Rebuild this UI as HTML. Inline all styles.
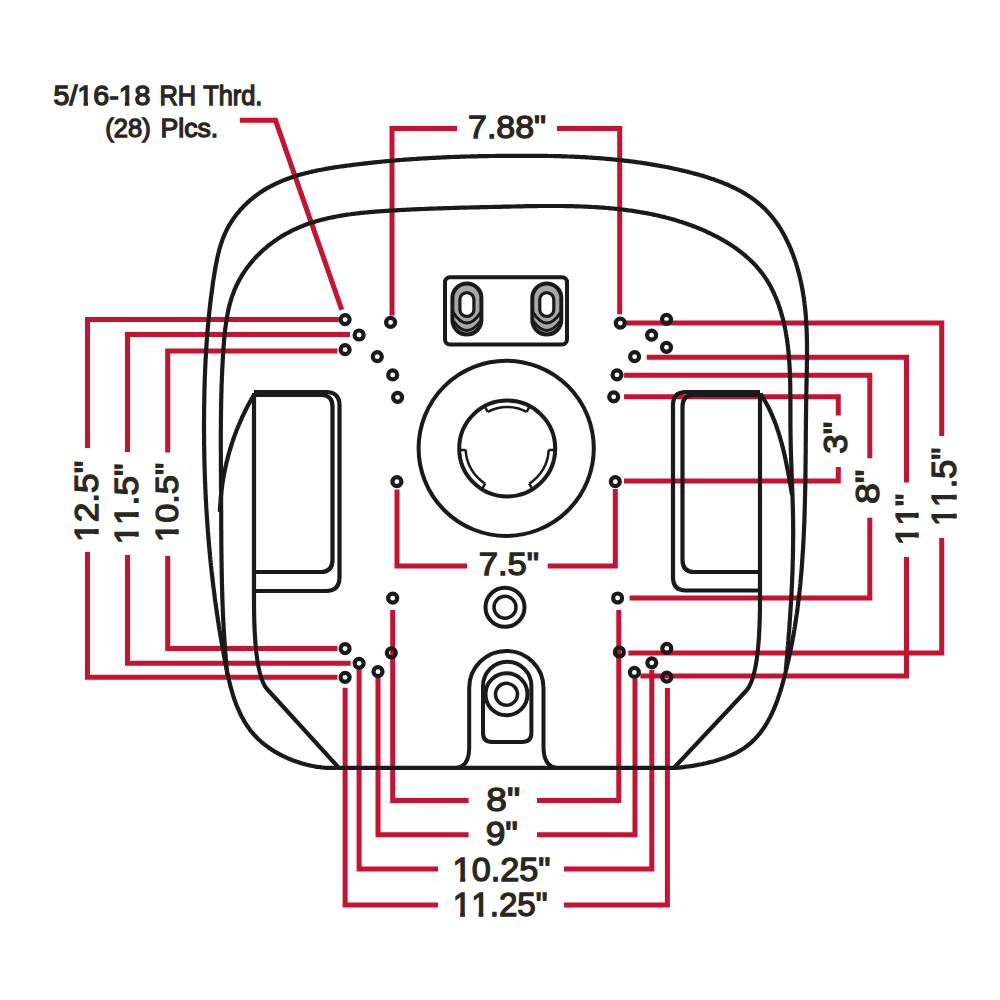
<!DOCTYPE html>
<html><head><meta charset="utf-8"><style>
html,body{margin:0;padding:0;background:#fff;width:1000px;height:1000px;overflow:hidden}
svg{display:block}
</style></head><body>
<svg width="1000" height="1000" viewBox="0 0 1000 1000">
<rect width="1000" height="1000" fill="#fff"/>
<path d="M397 489.5 V566 H467 M547.7 566 H615.3 V489" fill="none" stroke="#c81232" stroke-width="5" stroke-linejoin="miter"/>
<path d="M345.1 687.8 V905 H438 M564 905 H667.4 V688" fill="none" stroke="#c81232" stroke-width="5" stroke-linejoin="miter"/>
<path d="M359.1 669.6 V869 H438 M564 869 H651.8 V670" fill="none" stroke="#c81232" stroke-width="5" stroke-linejoin="miter"/>
<path d="M378 678 V834.8 H468.6 M537 834.8 H635 V678.4" fill="none" stroke="#c81232" stroke-width="5" stroke-linejoin="miter"/>
<path d="M392.7 610 V800.6 H468.6 M537 800.6 H618.8 V610" fill="none" stroke="#c81232" stroke-width="5" stroke-linejoin="miter"/>
<path d="M624.1 396.8 H838.3 V415.4 M838.3 467 V481 H624" fill="none" stroke="#c81232" stroke-width="5" stroke-linejoin="miter"/>
<path d="M624.1 375.2 H869.8 V458.3 M869.8 517.7 V598 H629.6" fill="none" stroke="#c81232" stroke-width="5" stroke-linejoin="miter"/>
<path d="M646.7 357.2 H906.5 V482.5 M906.5 557 V676 H640.4" fill="none" stroke="#c81232" stroke-width="5" stroke-linejoin="miter"/>
<path d="M626.3 323.1 H941.7 V436 M941.7 538 V653 H628.4" fill="none" stroke="#c81232" stroke-width="5" stroke-linejoin="miter"/>
<path d="M337.4 351 H167.7 V452.6 M167.7 556 V648.6 H337.4" fill="none" stroke="#c81232" stroke-width="5" stroke-linejoin="miter"/>
<path d="M350 334.4 H127.5 V452 M127.5 555 V663.3 H350.7" fill="none" stroke="#c81232" stroke-width="5" stroke-linejoin="miter"/>
<path d="M338.8 319.6 H87.5 V448 M87.5 552 V677.2 H337.4" fill="none" stroke="#c81232" stroke-width="5" stroke-linejoin="miter"/>
<path d="M239.8 120.3 H275.5 L341.8 309.8" fill="none" stroke="#c81232" stroke-width="5" stroke-linejoin="miter"/>
<path d="M392 315.4 V128.5 H457 M557 128.5 H619.7 V314.3" fill="none" stroke="#c81232" stroke-width="5" stroke-linejoin="miter"/>
<path d="M338.5 767.6 L337.1 767.7 L335.7 767.8 L334.4 767.9 L333.0 767.9 L331.6 767.9 L330.2 767.9 L328.8 767.9 L327.3 767.8 L325.9 767.8 L324.4 767.7 L323.0 767.5 L321.5 767.4 L320.1 767.2 L318.6 767.0 L317.1 766.8 L315.6 766.6 L314.1 766.3 L312.6 766.0 L311.1 765.7 L309.6 765.4 L308.1 765.0 L306.6 764.7 L305.1 764.3 L303.6 763.9 L302.1 763.5 L300.6 763.0 L299.1 762.5 L297.7 762.0 L296.2 761.5 L294.7 761.0 L293.2 760.4 L291.7 759.9 L290.3 759.3 L288.8 758.7 L287.4 758.1 L285.9 757.4 L284.5 756.7 L283.1 756.1 L281.7 755.4 L280.3 754.6 L278.9 753.9 L277.5 753.1 L276.2 752.4 L274.8 751.6 L273.5 750.8 L272.2 749.9 L270.9 749.1 L269.6 748.2 L268.4 747.3 L267.1 746.4 L265.9 745.5 L264.7 744.6 L263.5 743.7 L262.3 742.7 L261.2 741.7 L260.1 740.7 L259.0 739.7 L257.9 738.7 L256.8 737.6 L255.8 736.6 L254.8 735.5 L253.8 734.4 L252.9 733.3 L251.9 732.2 L251.0 731.1 L250.1 730.0 L249.3 728.8 L248.4 727.6 L247.6 726.4 L246.8 725.3 L246.0 724.0 L245.2 722.8 L244.5 721.6 L243.8 720.4 L243.1 719.1 L242.4 717.8 L241.7 716.6 L241.0 715.3 L240.4 714.0 L239.8 712.7 L239.2 711.4 L238.6 710.0 L238.0 708.7 L237.4 707.4 L236.9 706.0 L236.3 704.7 L235.8 703.3 L235.3 701.9 L234.8 700.5 L234.3 699.2 L233.9 697.8 L233.4 696.4 L233.0 694.9 L232.5 693.5 L232.1 692.1 L231.7 690.7 L231.3 689.2 L230.9 687.8 L230.5 686.4 L230.1 684.9 L229.8 683.5 L229.4 682.0 L229.1 680.5 L228.7 679.1 L228.4 677.6 L228.1 676.1 L227.7 674.7 L227.4 673.2 L227.1 671.7 L226.8 670.2 L226.5 668.7 L226.2 667.3 L225.9 665.8 L225.6 664.3 L225.3 662.8 L225.0 661.3 L224.8 659.8 L224.5 658.3 L224.2 656.9 L223.9 655.4 L223.6 653.9 L223.4 652.4 L223.1 650.9 L222.8 649.4 L222.6 647.9 L222.3 646.4 L222.0 644.9 L221.8 643.5 L221.5 642.0 L221.3 640.5 L221.0 639.0 L220.8 637.5 L220.5 636.0 L220.3 634.5 L220.0 633.0 L219.8 631.5 L219.5 630.1 L219.3 628.6 L219.1 627.1 L218.8 625.6 L218.6 624.1 L218.4 622.6 L218.1 621.1 L217.9 619.6 L217.7 618.1 L217.5 616.7 L217.2 615.2 L217.0 613.7 L216.8 612.2 L216.6 610.7 L216.4 609.2 L216.2 607.7 L216.0 606.2 L215.7 604.7 L215.5 603.3 L215.3 601.8 L215.1 600.3 L214.9 598.8 L214.7 597.3 L214.5 595.8 L214.4 594.3 L214.2 592.8 L214.0 591.3 L213.8 589.8 L213.6 588.4 L213.4 586.9 L213.2 585.4 L213.1 583.9 L212.9 582.4 L212.7 580.9 L212.5 579.4 L212.4 577.9 L212.2 576.4 L212.0 574.9 L211.8 573.4 L211.7 572.0 L211.5 570.5 L211.4 569.0 L211.2 567.5 L211.0 566.0 L210.9 564.5 L210.7 563.0 L210.6 561.5 L210.4 560.0 L210.3 558.5 L210.1 557.0 L210.0 555.6 L209.9 554.1 L209.7 552.6 L209.6 551.1 L209.4 549.6 L209.3 548.1 L209.2 546.6 L209.0 545.1 L208.9 543.6 L208.8 542.1 L208.7 540.6 L208.5 539.1 L208.4 537.7 L208.3 536.2 L208.2 534.7 L208.1 533.2 L207.9 531.7 L207.8 530.2 L207.7 528.7 L207.6 527.2 L207.5 525.7 L207.4 524.2 L207.3 522.7 L207.2 521.2 L207.1 519.7 L207.0 518.3 L206.9 516.8 L206.8 515.3 L206.7 513.8 L206.6 512.3 L206.5 510.8 L206.4 509.3 L206.3 507.8 L206.2 506.3 L206.2 504.8 L206.1 503.3 L206.0 501.8 L205.9 500.3 L205.8 498.8 L205.8 497.4 L205.7 495.9 L205.6 494.4 L205.5 492.9 L205.5 491.4 L205.4 489.9 L205.3 488.4 L205.3 486.9 L205.2 485.4 L205.2 483.9 L205.1 482.4 L205.0 480.9 L205.0 479.4 L204.9 477.9 L204.9 476.4 L204.8 475.0 L204.8 473.5 L204.7 472.0 L204.7 470.5 L204.6 469.0 L204.6 467.5 L204.6 466.0 L204.5 464.5 L204.5 463.0 L204.4 461.5 L204.4 460.0 L204.4 458.5 L204.3 457.0 L204.3 455.5 L204.3 454.0 L204.3 452.5 L204.2 451.0 L204.2 449.5 L204.2 448.1 L204.2 446.6 L204.1 445.1 L204.1 443.6 L204.1 442.1 L204.1 440.6 L204.1 439.1 L204.1 437.6 L204.1 436.1 L204.1 434.6 L204.0 433.1 L204.0 431.6 L204.0 430.1 L204.0 428.6 L204.0 427.1 L204.0 425.6 L204.0 424.1 L204.0 422.6 L204.0 421.1 L204.0 419.6 L204.1 418.2 L204.1 416.7 L204.1 415.2 L204.1 413.7 L204.1 412.2 L204.1 410.7 L204.1 409.2 L204.1 407.7 L204.2 406.2 L204.2 404.7 L204.2 403.2 L204.2 401.7 L204.3 400.2 L204.3 398.7 L204.3 397.2 L204.3 395.7 L204.4 394.2 L204.4 392.7 L204.4 391.2 L204.5 389.7 L204.5 388.2 L204.6 386.7 L204.6 385.2 L204.7 383.7 L204.7 382.2 L204.7 380.7 L204.8 379.3 L204.8 377.8 L204.9 376.3 L205.0 374.8 L205.0 373.3 L205.1 371.8 L205.1 370.3 L205.2 368.8 L205.3 367.3 L205.3 365.8 L205.4 364.3 L205.5 362.8 L205.5 361.3 L205.6 359.8 L205.7 358.3 L205.8 356.8 L205.9 355.3 L205.9 353.8 L206.0 352.3 L206.1 350.8 L206.2 349.3 L206.3 347.8 L206.4 346.3 L206.5 344.8 L206.6 343.3 L206.7 341.8 L206.8 340.3 L206.9 338.8 L207.0 337.3 L207.2 335.8 L207.3 334.3 L207.4 332.8 L207.5 331.3 L207.6 329.9 L207.8 328.4 L207.9 326.9 L208.0 325.4 L208.2 323.9 L208.3 322.4 L208.4 320.9 L208.6 319.4 L208.7 317.9 L208.9 316.4 L209.0 314.9 L209.2 313.4 L209.3 311.9 L209.5 310.4 L209.7 308.9 L209.8 307.4 L210.0 305.9 L210.2 304.4 L210.3 302.9 L210.5 301.4 L210.7 299.9 L210.9 298.4 L211.1 296.9 L211.3 295.4 L211.5 293.9 L211.7 292.4 L211.9 290.9 L212.1 289.4 L212.3 287.9 L212.5 286.4 L212.7 284.9 L212.9 283.4 L213.1 281.9 L213.3 280.4 L213.6 278.9 L213.8 277.5 L214.0 276.0 L214.3 274.5 L214.5 273.0 L214.8 271.5 L215.0 270.0 L215.3 268.5 L215.5 267.0 L215.8 265.5 L216.1 264.0 L216.4 262.5 L216.7 261.0 L217.0 259.6 L217.3 258.1 L217.6 256.6 L217.9 255.1 L218.3 253.7 L218.7 252.2 L219.0 250.8 L219.4 249.3 L219.8 247.9 L220.3 246.5 L220.7 245.0 L221.1 243.6 L221.6 242.2 L222.1 240.8 L222.6 239.4 L223.1 238.0 L223.7 236.6 L224.3 235.2 L224.8 233.9 L225.5 232.5 L226.1 231.2 L226.7 229.9 L227.4 228.5 L228.1 227.2 L228.8 225.9 L229.6 224.6 L230.4 223.3 L231.1 222.1 L232.0 220.8 L232.8 219.6 L233.6 218.4 L234.5 217.1 L235.4 215.9 L236.3 214.8 L237.2 213.6 L238.2 212.4 L239.2 211.3 L240.1 210.1 L241.1 209.0 L242.2 207.9 L243.2 206.8 L244.2 205.8 L245.3 204.7 L246.4 203.7 L247.5 202.6 L248.6 201.6 L249.7 200.6 L250.8 199.7 L251.9 198.7 L253.1 197.8 L254.3 196.9 L255.4 196.0 L256.6 195.1 L257.8 194.2 L259.0 193.4 L260.2 192.5 L261.4 191.7 L262.7 190.9 L263.9 190.1 L265.2 189.4 L266.4 188.6 L267.7 187.9 L269.0 187.2 L270.3 186.5 L271.6 185.8 L272.9 185.1 L274.2 184.5 L275.5 183.8 L276.8 183.2 L278.2 182.6 L279.5 182.0 L280.9 181.4 L282.2 180.9 L283.6 180.3 L285.0 179.8 L286.4 179.2 L287.7 178.7 L289.1 178.2 L290.5 177.7 L291.9 177.2 L293.4 176.8 L294.8 176.3 L296.2 175.9 L297.6 175.4 L299.1 175.0 L300.5 174.6 L301.9 174.2 L303.4 173.8 L304.8 173.4 L306.3 173.0 L307.8 172.7 L309.2 172.3 L310.7 172.0 L312.2 171.6 L313.6 171.3 L315.1 171.0 L316.6 170.6 L318.1 170.3 L319.6 170.0 L321.1 169.8 L322.6 169.5 L324.1 169.2 L325.6 168.9 L327.1 168.7 L328.6 168.4 L330.1 168.1 L331.6 167.9 L333.1 167.6 L334.6 167.4 L336.1 167.2 L337.6 167.0 L339.1 166.7 L340.7 166.5 L342.2 166.3 L343.7 166.1 L345.2 165.9 L346.7 165.7 L348.2 165.5 L349.7 165.3 L351.3 165.1 L352.8 164.9 L354.3 164.7 L355.8 164.5 L357.3 164.3 L358.8 164.1 L360.3 164.0 L361.8 163.8 L363.4 163.6 L364.9 163.4 L366.4 163.3 L367.9 163.1 L369.4 162.9 L370.9 162.8 L372.4 162.6 L373.9 162.4 L375.4 162.3 L376.9 162.1 L378.4 162.0 L379.9 161.8 L381.4 161.7 L382.9 161.5 L384.4 161.4 L385.9 161.3 L387.4 161.1 L388.9 161.0 L390.5 160.9 L392.0 160.7 L393.5 160.6 L395.0 160.5 L396.5 160.3 L398.0 160.2 L399.5 160.1 L401.0 160.0 L402.5 159.9 L404.0 159.7 L405.4 159.6 L406.9 159.5 L408.4 159.4 L409.9 159.3 L411.4 159.2 L412.9 159.1 L414.4 159.0 L415.9 158.9 L417.4 158.8 L418.9 158.7 L420.4 158.6 L421.9 158.5 L423.4 158.4 L424.9 158.3 L426.4 158.3 L427.9 158.2 L429.4 158.1 L430.9 158.0 L432.4 157.9 L433.9 157.8 L435.4 157.8 L436.8 157.7 L438.3 157.6 L439.8 157.6 L441.3 157.5 L442.8 157.4 L444.3 157.4 L445.8 157.3 L447.3 157.2 L448.8 157.2 L450.3 157.1 L451.8 157.0 L453.2 157.0 L454.7 156.9 L456.2 156.9 L457.7 156.8 L459.2 156.8 L460.7 156.7 L462.2 156.7 L463.7 156.6 L465.2 156.6 L466.6 156.5 L468.1 156.5 L469.6 156.5 L471.1 156.4 L472.6 156.4 L474.1 156.3 L475.6 156.3 L477.1 156.3 L478.6 156.2 L480.0 156.2 L481.5 156.2 L483.0 156.2 L484.5 156.1 L486.0 156.1 L487.5 156.1 L489.0 156.0 L490.5 156.0 L491.9 156.0 L493.4 156.0 L494.9 156.0 L496.4 155.9 L497.9 155.9 L499.4 155.9 L500.9 155.9 L502.4 155.9 L503.8 155.9 L505.3 155.8 L506.8 155.8 L508.3 155.8 L509.8 155.8 L511.3 155.8 L512.8 155.8 L514.3 155.8 L515.7 155.8 L517.2 155.8 L518.7 155.8 L520.2 155.8 L521.7 155.8 L523.2 155.8 L524.7 155.8 L526.2 155.8 L527.6 155.8 L529.1 155.8 L530.6 155.8 L532.1 155.8 L533.6 155.8 L535.1 155.8 L536.6 155.8 L538.1 155.8 L539.5 155.8 L541.0 155.9 L542.5 155.9 L544.0 155.9 L545.5 155.9 L547.0 155.9 L548.5 156.0 L550.0 156.0 L551.4 156.0 L552.9 156.0 L554.4 156.1 L555.9 156.1 L557.4 156.2 L558.9 156.2 L560.4 156.2 L561.9 156.3 L563.4 156.3 L564.8 156.4 L566.3 156.4 L567.8 156.5 L569.3 156.5 L570.8 156.6 L572.3 156.6 L573.8 156.7 L575.3 156.8 L576.8 156.8 L578.2 156.9 L579.7 157.0 L581.2 157.1 L582.7 157.1 L584.2 157.2 L585.7 157.3 L587.2 157.4 L588.7 157.5 L590.2 157.6 L591.6 157.7 L593.1 157.8 L594.6 157.9 L596.1 158.0 L597.6 158.1 L599.1 158.2 L600.6 158.3 L602.1 158.4 L603.6 158.5 L605.1 158.7 L606.5 158.8 L608.0 158.9 L609.5 159.1 L611.0 159.2 L612.5 159.3 L614.0 159.5 L615.5 159.6 L617.0 159.8 L618.5 159.9 L620.0 160.1 L621.4 160.2 L622.9 160.4 L624.4 160.6 L625.9 160.8 L627.4 160.9 L628.9 161.1 L630.4 161.3 L631.9 161.5 L633.4 161.7 L634.9 161.9 L636.3 162.1 L637.8 162.3 L639.3 162.5 L640.8 162.7 L642.3 162.9 L643.8 163.2 L645.3 163.4 L646.8 163.6 L648.3 163.8 L649.8 164.1 L651.3 164.3 L652.7 164.6 L654.2 164.8 L655.7 165.1 L657.2 165.4 L658.7 165.6 L660.2 165.9 L661.7 166.2 L663.2 166.5 L664.7 166.7 L666.2 167.0 L667.7 167.3 L669.2 167.6 L670.6 167.9 L672.1 168.2 L673.6 168.6 L675.1 168.9 L676.6 169.2 L678.1 169.5 L679.6 169.9 L681.1 170.2 L682.6 170.6 L684.1 170.9 L685.6 171.3 L687.1 171.6 L688.6 172.0 L690.0 172.4 L691.5 172.8 L693.0 173.2 L694.5 173.6 L696.0 174.0 L697.5 174.4 L699.0 174.8 L700.4 175.2 L701.9 175.6 L703.4 176.1 L704.9 176.5 L706.3 177.0 L707.8 177.4 L709.2 177.9 L710.7 178.4 L712.1 178.9 L713.6 179.3 L715.0 179.9 L716.5 180.4 L717.9 180.9 L719.3 181.4 L720.7 182.0 L722.1 182.5 L723.5 183.1 L724.9 183.7 L726.3 184.2 L727.7 184.8 L729.1 185.4 L730.5 186.1 L731.8 186.7 L733.2 187.3 L734.5 188.0 L735.8 188.6 L737.2 189.3 L738.5 190.0 L739.8 190.7 L741.1 191.4 L742.4 192.1 L743.6 192.9 L744.9 193.6 L746.2 194.4 L747.4 195.2 L748.6 196.0 L749.8 196.8 L751.0 197.6 L752.2 198.4 L753.4 199.3 L754.6 200.1 L755.7 201.0 L756.9 201.9 L758.0 202.8 L759.1 203.7 L760.2 204.7 L761.3 205.6 L762.4 206.6 L763.5 207.6 L764.5 208.6 L765.5 209.6 L766.5 210.7 L767.5 211.7 L768.5 212.8 L769.5 213.9 L770.4 215.0 L771.4 216.1 L772.3 217.2 L773.2 218.3 L774.1 219.5 L775.0 220.7 L775.8 221.8 L776.7 223.0 L777.5 224.3 L778.4 225.5 L779.2 226.7 L780.0 228.0 L780.7 229.2 L781.5 230.5 L782.3 231.8 L783.0 233.0 L783.7 234.3 L784.5 235.7 L785.2 237.0 L785.8 238.3 L786.5 239.7 L787.2 241.0 L787.8 242.4 L788.5 243.7 L789.1 245.1 L789.7 246.5 L790.3 247.9 L790.9 249.3 L791.4 250.7 L792.0 252.1 L792.6 253.5 L793.1 254.9 L793.6 256.4 L794.1 257.8 L794.6 259.2 L795.1 260.7 L795.6 262.1 L796.1 263.6 L796.5 265.1 L797.0 266.5 L797.4 268.0 L797.8 269.5 L798.2 270.9 L798.6 272.4 L799.0 273.9 L799.4 275.4 L799.7 276.9 L800.1 278.3 L800.4 279.8 L800.8 281.3 L801.1 282.8 L801.4 284.3 L801.7 285.8 L802.0 287.3 L802.3 288.8 L802.5 290.3 L802.8 291.7 L803.0 293.2 L803.3 294.7 L803.5 296.2 L803.7 297.7 L804.0 299.2 L804.2 300.7 L804.4 302.2 L804.5 303.7 L804.7 305.1 L804.9 306.6 L805.1 308.1 L805.2 309.6 L805.4 311.1 L805.5 312.6 L805.6 314.1 L805.8 315.6 L805.9 317.1 L806.0 318.6 L806.1 320.0 L806.2 321.5 L806.3 323.0 L806.4 324.5 L806.4 326.0 L806.5 327.5 L806.6 329.0 L806.6 330.5 L806.7 332.0 L806.8 333.4 L806.8 334.9 L806.8 336.4 L806.9 337.9 L806.9 339.4 L806.9 340.9 L807.0 342.4 L807.0 343.9 L807.0 345.4 L807.0 346.8 L807.0 348.3 L807.0 349.8 L807.0 351.3 L807.0 352.8 L807.0 354.3 L807.0 355.8 L807.0 357.3 L807.0 358.8 L807.0 360.3 L806.9 361.8 L806.9 363.2 L806.9 364.7 L806.9 366.2 L806.8 367.7 L806.8 369.2 L806.8 370.7 L806.8 372.2 L806.7 373.7 L806.7 375.2 L806.7 376.7 L806.6 378.2 L806.6 379.7 L806.6 381.2 L806.5 382.7 L806.5 384.2 L806.5 385.6 L806.4 387.1 L806.4 388.6 L806.4 390.1 L806.4 391.6 L806.3 393.1 L806.3 394.6 L806.3 396.1 L806.3 397.6 L806.2 399.1 L806.2 400.6 L806.2 402.1 L806.2 403.6 L806.1 405.1 L806.1 406.6 L806.1 408.1 L806.1 409.6 L806.1 411.1 L806.0 412.6 L806.0 414.1 L806.0 415.6 L806.0 417.1 L806.0 418.6 L806.0 420.1 L805.9 421.6 L805.9 423.1 L805.9 424.6 L805.9 426.1 L805.9 427.6 L805.9 429.1 L805.9 430.6 L805.8 432.1 L805.8 433.6 L805.8 435.1 L805.8 436.6 L805.8 438.1 L805.8 439.6 L805.8 441.1 L805.8 442.6 L805.7 444.1 L805.7 445.6 L805.7 447.1 L805.7 448.6 L805.7 450.1 L805.7 451.6 L805.7 453.1 L805.7 454.6 L805.6 456.1 L805.6 457.6 L805.6 459.1 L805.6 460.6 L805.6 462.1 L805.6 463.6 L805.5 465.1 L805.5 466.6 L805.5 468.1 L805.5 469.6 L805.5 471.1 L805.5 472.6 L805.4 474.1 L805.4 475.7 L805.4 477.2 L805.4 478.7 L805.4 480.2 L805.3 481.7 L805.3 483.2 L805.3 484.7 L805.3 486.2 L805.2 487.7 L805.2 489.2 L805.2 490.7 L805.1 492.2 L805.1 493.7 L805.1 495.2 L805.0 496.7 L805.0 498.2 L805.0 499.7 L804.9 501.2 L804.9 502.7 L804.9 504.2 L804.8 505.7 L804.8 507.2 L804.7 508.7 L804.7 510.2 L804.7 511.7 L804.6 513.2 L804.6 514.7 L804.5 516.2 L804.5 517.7 L804.4 519.2 L804.4 520.7 L804.3 522.2 L804.3 523.7 L804.2 525.2 L804.1 526.7 L804.1 528.2 L804.0 529.7 L803.9 531.2 L803.9 532.7 L803.8 534.2 L803.7 535.7 L803.7 537.2 L803.6 538.7 L803.5 540.2 L803.4 541.7 L803.4 543.2 L803.3 544.7 L803.2 546.2 L803.1 547.7 L803.0 549.2 L802.9 550.7 L802.8 552.2 L802.7 553.7 L802.6 555.2 L802.5 556.7 L802.4 558.2 L802.3 559.7 L802.2 561.2 L802.1 562.7 L802.0 564.1 L801.9 565.6 L801.8 567.1 L801.7 568.6 L801.6 570.1 L801.4 571.6 L801.3 573.1 L801.2 574.6 L801.0 576.1 L800.9 577.6 L800.8 579.1 L800.6 580.6 L800.5 582.1 L800.4 583.5 L800.2 585.0 L800.1 586.5 L799.9 588.0 L799.7 589.5 L799.6 591.0 L799.4 592.5 L799.3 594.0 L799.1 595.5 L798.9 596.9 L798.8 598.4 L798.6 599.9 L798.4 601.4 L798.2 602.9 L798.0 604.4 L797.8 605.9 L797.7 607.3 L797.5 608.8 L797.3 610.3 L797.1 611.8 L796.9 613.3 L796.6 614.8 L796.4 616.2 L796.2 617.7 L796.0 619.2 L795.8 620.7 L795.5 622.2 L795.3 623.6 L795.1 625.1 L794.9 626.6 L794.6 628.1 L794.4 629.6 L794.1 631.0 L793.9 632.5 L793.6 634.0 L793.4 635.5 L793.1 636.9 L792.8 638.4 L792.6 639.9 L792.3 641.4 L792.0 642.8 L791.7 644.3 L791.4 645.8 L791.1 647.3 L790.9 648.7 L790.6 650.2 L790.3 651.7 L789.9 653.1 L789.6 654.6 L789.3 656.1 L789.0 657.5 L788.7 659.0 L788.4 660.5 L788.0 661.9 L787.7 663.4 L787.3 664.9 L787.0 666.3 L786.7 667.8 L786.3 669.3 L785.9 670.7 L785.6 672.2 L785.2 673.7 L784.8 675.1 L784.5 676.6 L784.1 678.0 L783.7 679.5 L783.3 681.0 L782.9 682.4 L782.5 683.9 L782.1 685.3 L781.7 686.8 L781.3 688.2 L780.8 689.6 L780.4 691.1 L779.9 692.5 L779.5 693.9 L779.0 695.4 L778.5 696.8 L778.1 698.2 L777.6 699.6 L777.1 701.0 L776.6 702.4 L776.0 703.8 L775.5 705.2 L774.9 706.6 L774.4 707.9 L773.8 709.3 L773.2 710.6 L772.6 712.0 L772.0 713.3 L771.4 714.6 L770.7 715.9 L770.1 717.2 L769.4 718.5 L768.7 719.8 L768.0 721.0 L767.3 722.3 L766.6 723.5 L765.8 724.8 L765.1 726.0 L764.3 727.2 L763.5 728.4 L762.7 729.5 L761.8 730.7 L761.0 731.8 L760.1 733.0 L759.2 734.1 L758.3 735.2 L757.3 736.3 L756.4 737.3 L755.4 738.4 L754.4 739.4 L753.4 740.4 L752.3 741.4 L751.3 742.4 L750.2 743.4 L749.1 744.3 L747.9 745.2 L746.8 746.1 L745.6 747.0 L744.4 747.9 L743.2 748.7 L741.9 749.5 L740.6 750.3 L739.3 751.1 L738.0 751.9 L736.6 752.6 L735.2 753.3 L733.8 754.0 L732.4 754.7 L730.9 755.3 L729.5 755.9 L728.0 756.6 L726.5 757.1 L725.0 757.7 L723.4 758.3 L721.9 758.8 L720.3 759.3 L718.8 759.8 L717.2 760.3 L715.6 760.7 L714.1 761.2 L712.5 761.6 L710.9 762.0 L709.3 762.4 L707.7 762.8 L706.1 763.2 L704.5 763.5 L703.0 763.9 L701.4 764.2 L699.8 764.5 L698.3 764.8 L696.7 765.1 L695.2 765.3 L693.6 765.6 L692.1 765.8 L690.6 766.1 L689.1 766.3 L687.7 766.5 L686.2 766.7 L684.8 766.9 L683.4 767.1 L682.0 767.3 L680.7 767.4 L679.3 767.6 L678.0 767.7 L676.8 767.8 L675.5 768.0 L674.3 768.1" fill="none" stroke="#1a1a1a" stroke-width="4.2" stroke-linejoin="round"/>
<path d="M227.4 675.0 L227.2 673.5 L227.1 672.0 L226.9 670.5 L226.8 669.0 L226.6 667.5 L226.5 666.0 L226.4 664.5 L226.2 663.0 L226.1 661.5 L226.0 660.0 L225.8 658.5 L225.7 657.0 L225.6 655.5 L225.5 654.1 L225.3 652.6 L225.2 651.1 L225.1 649.6 L225.0 648.1 L224.9 646.6 L224.8 645.1 L224.7 643.6 L224.6 642.1 L224.5 640.6 L224.4 639.1 L224.3 637.6 L224.2 636.1 L224.1 634.6 L224.0 633.1 L223.9 631.6 L223.8 630.1 L223.7 628.6 L223.6 627.1 L223.6 625.6 L223.5 624.1 L223.4 622.6 L223.3 621.1 L223.2 619.6 L223.2 618.1 L223.1 616.6 L223.0 615.1 L223.0 613.6 L222.9 612.1 L222.8 610.6 L222.8 609.1 L222.7 607.6 L222.7 606.1 L222.6 604.6 L222.5 603.1 L222.5 601.6 L222.4 600.1 L222.4 598.6 L222.3 597.1 L222.3 595.6 L222.2 594.1 L222.2 592.6 L222.2 591.1 L222.1 589.6 L222.1 588.1 L222.0 586.6 L222.0 585.1 L222.0 583.6 L221.9 582.1 L221.9 580.6 L221.9 579.1 L221.8 577.6 L221.8 576.1 L221.8 574.6 L221.7 573.1 L221.7 571.6 L221.7 570.1 L221.7 568.6 L221.6 567.1 L221.6 565.6 L221.6 564.1 L221.6 562.6 L221.5 561.1 L221.5 559.6 L221.5 558.1 L221.5 556.6 L221.5 555.1 L221.4 553.6 L221.4 552.1 L221.4 550.6 L221.4 549.1 L221.4 547.6 L221.4 546.2 L221.3 544.7 L221.3 543.2 L221.3 541.7 L221.3 540.2 L221.3 538.7 L221.3 537.2 L221.3 535.7 L221.3 534.2 L221.3 532.7 L221.3 531.2 L221.2 529.7 L221.2 528.2 L221.2 526.7 L221.2 525.2 L221.2 523.7 L221.2 522.2 L221.2 520.7 L221.2 519.2 L221.2 517.7 L221.2 516.2 L221.2 514.7 L221.2 513.2 L221.2 511.7 L221.2 510.2 L221.1 508.8 L221.1 507.3 L221.1 505.8 L221.1 504.3 L221.1 502.8 L221.1 501.3 L221.1 499.8 L221.1 498.3 L221.1 496.8 L221.1 495.3 L221.1 493.8 L221.1 492.3 L221.1 490.8 L221.1 489.3 L221.0 487.8 L221.0 486.4 L221.0 484.9 L221.0 483.4 L221.0 481.9 L221.0 480.4 L221.0 478.9 L221.0 477.4 L221.0 475.9 L221.0 474.4 L221.0 472.9 L220.9 471.4 L220.9 469.9 L220.9 468.5 L220.9 467.0 L220.9 465.5 L220.9 464.0 L220.9 462.5 L220.9 461.0 L220.9 459.5 L220.9 458.0 L220.9 456.5 L220.9 455.0 L220.9 453.5 L220.8 452.1 L220.8 450.6 L220.8 449.1 L220.8 447.6 L220.8 446.1 L220.8 444.6 L220.8 443.1 L220.8 441.6 L220.8 440.1 L220.8 438.6 L220.8 437.1 L220.8 435.6 L220.8 434.1 L220.8 432.6 L220.8 431.1 L220.8 429.6 L220.9 428.1 L220.9 426.6 L220.9 425.1 L220.9 423.6 L220.9 422.1 L220.9 420.7 L220.9 419.2 L220.9 417.7 L221.0 416.2 L221.0 414.7 L221.0 413.1 L221.0 411.6 L221.0 410.1 L221.1 408.6 L221.1 407.1 L221.1 405.6 L221.1 404.1 L221.2 402.6 L221.2 401.1 L221.2 399.6 L221.3 398.1 L221.3 396.6 L221.3 395.1 L221.4 393.6 L221.4 392.1 L221.5 390.6 L221.5 389.0 L221.5 387.5 L221.6 386.0 L221.6 384.5 L221.7 383.0 L221.8 381.5 L221.8 380.0 L221.9 378.4 L221.9 376.9 L222.0 375.4 L222.1 373.9 L222.1 372.4 L222.2 370.8 L222.3 369.3 L222.3 367.8 L222.4 366.3 L222.5 364.7 L222.6 363.2 L222.7 361.7 L222.7 360.1 L222.8 358.6 L222.9 357.1 L223.0 355.6 L223.1 354.0 L223.2 352.5 L223.3 351.0 L223.4 349.4 L223.5 347.9 L223.6 346.3 L223.8 344.8 L223.9 343.3 L224.0 341.7 L224.1 340.2 L224.3 338.6 L224.4 337.1 L224.5 335.6 L224.7 334.0 L224.9 332.5 L225.0 331.0 L225.2 329.4 L225.4 327.9 L225.6 326.4 L225.8 324.9 L226.0 323.4 L226.2 321.8 L226.4 320.3 L226.7 318.8 L226.9 317.3 L227.2 315.8 L227.5 314.4 L227.8 312.9 L228.1 311.4 L228.4 309.9 L228.7 308.5 L229.0 307.0 L229.4 305.6 L229.8 304.1 L230.2 302.7 L230.6 301.2 L231.0 299.8 L231.4 298.4 L231.9 297.0 L232.4 295.6 L232.9 294.2 L233.4 292.9 L233.9 291.5 L234.4 290.1 L235.0 288.8 L235.6 287.5 L236.2 286.1 L236.8 284.8 L237.5 283.5 L238.1 282.2 L238.8 280.9 L239.5 279.7 L240.2 278.4 L240.9 277.2 L241.6 275.9 L242.4 274.7 L243.2 273.5 L243.9 272.3 L244.7 271.1 L245.6 269.9 L246.4 268.7 L247.2 267.5 L248.1 266.4 L249.0 265.2 L249.9 264.1 L250.8 263.0 L251.7 261.9 L252.6 260.8 L253.6 259.7 L254.6 258.6 L255.5 257.5 L256.5 256.5 L257.5 255.4 L258.6 254.4 L259.6 253.4 L260.6 252.4 L261.7 251.4 L262.8 250.4 L263.9 249.5 L265.0 248.5 L266.1 247.6 L267.2 246.6 L268.3 245.7 L269.5 244.8 L270.6 243.9 L271.8 243.0 L273.0 242.2 L274.2 241.3 L275.4 240.5 L276.6 239.6 L277.8 238.8 L279.0 238.0 L280.3 237.2 L281.5 236.4 L282.8 235.7 L284.1 234.9 L285.3 234.2 L286.6 233.5 L287.9 232.8 L289.2 232.1 L290.6 231.4 L291.9 230.7 L293.2 230.0 L294.6 229.4 L295.9 228.8 L297.3 228.2 L298.7 227.6 L300.0 227.0 L301.4 226.4 L302.8 225.9 L304.2 225.3 L305.6 224.8 L307.0 224.3 L308.4 223.8 L309.9 223.3 L311.3 222.8 L312.7 222.3 L314.2 221.9 L315.6 221.4 L317.1 221.0 L318.6 220.6 L320.0 220.2 L321.5 219.8 L323.0 219.4 L324.5 219.1 L326.0 218.7 L327.5 218.3 L329.0 218.0 L330.5 217.7 L332.0 217.4 L333.5 217.1 L335.0 216.8 L336.5 216.5 L338.0 216.2 L339.5 215.9 L341.1 215.7 L342.6 215.4 L344.1 215.2 L345.7 214.9 L347.2 214.7 L348.7 214.5 L350.3 214.3 L351.8 214.0 L353.4 213.8 L354.9 213.7 L356.5 213.5 L358.0 213.3 L359.5 213.1 L361.1 212.9 L362.6 212.8 L364.2 212.6 L365.7 212.5 L367.3 212.3 L368.8 212.2 L370.4 212.1 L371.9 211.9 L373.5 211.8 L375.0 211.7 L376.6 211.6 L378.1 211.4 L379.7 211.3 L381.2 211.2 L382.7 211.1 L384.3 211.0 L385.8 210.9 L387.4 210.8 L388.9 210.7 L390.4 210.6 L391.9 210.5 L393.5 210.4 L395.0 210.4 L396.5 210.3 L398.0 210.2 L399.5 210.1 L401.0 210.0 L402.5 209.9 L404.0 209.9 L405.5 209.8 L407.0 209.7 L408.5 209.6 L410.0 209.6 L411.5 209.5 L413.0 209.4 L414.5 209.4 L416.0 209.3 L417.5 209.2 L419.0 209.2 L420.4 209.1 L421.9 209.0 L423.4 209.0 L424.9 208.9 L426.3 208.9 L427.8 208.8 L429.3 208.7 L430.8 208.7 L432.2 208.6 L433.7 208.6 L435.2 208.5 L436.6 208.5 L438.1 208.4 L439.5 208.4 L441.0 208.3 L442.5 208.3 L443.9 208.2 L445.4 208.2 L446.8 208.1 L448.3 208.1 L449.8 208.0 L451.2 208.0 L452.7 208.0 L454.1 207.9 L455.6 207.9 L457.0 207.8 L458.5 207.8 L460.0 207.7 L461.4 207.7 L462.9 207.7 L464.3 207.6 L465.8 207.6 L467.2 207.6 L468.7 207.5 L470.2 207.5 L471.6 207.4 L473.1 207.4 L474.5 207.4 L476.0 207.3 L477.4 207.3 L478.9 207.3 L480.4 207.2 L481.8 207.2 L483.3 207.2 L484.8 207.1 L486.2 207.1 L487.7 207.1 L489.2 207.0 L490.6 207.0 L492.1 207.0 L493.6 206.9 L495.0 206.9 L496.5 206.9 L498.0 206.8 L499.5 206.8 L501.0 206.8 L502.4 206.7 L503.9 206.7 L505.4 206.7 L506.9 206.6 L508.4 206.6 L509.9 206.6 L511.4 206.5 L512.9 206.5 L514.4 206.5 L515.9 206.4 L517.4 206.4 L518.9 206.4 L520.4 206.3 L521.9 206.3 L523.4 206.3 L524.9 206.2 L526.4 206.2 L527.9 206.2 L529.4 206.2 L530.9 206.1 L532.4 206.1 L533.9 206.1 L535.5 206.1 L537.0 206.1 L538.5 206.0 L540.0 206.0 L541.5 206.0 L543.0 206.0 L544.6 206.0 L546.1 206.0 L547.6 206.0 L549.1 206.0 L550.6 206.0 L552.2 206.0 L553.7 206.0 L555.2 206.0 L556.7 206.0 L558.3 206.0 L559.8 206.0 L561.3 206.0 L562.8 206.0 L564.4 206.1 L565.9 206.1 L567.4 206.1 L568.9 206.1 L570.5 206.2 L572.0 206.2 L573.5 206.2 L575.1 206.3 L576.6 206.3 L578.1 206.4 L579.6 206.4 L581.2 206.5 L582.7 206.5 L584.2 206.6 L585.7 206.7 L587.3 206.7 L588.8 206.8 L590.3 206.9 L591.8 207.0 L593.4 207.0 L594.9 207.1 L596.4 207.2 L597.9 207.3 L599.4 207.4 L601.0 207.5 L602.5 207.6 L604.0 207.7 L605.5 207.9 L607.0 208.0 L608.6 208.1 L610.1 208.3 L611.6 208.4 L613.1 208.5 L614.6 208.7 L616.1 208.8 L617.6 209.0 L619.1 209.2 L620.7 209.3 L622.2 209.5 L623.7 209.7 L625.2 209.9 L626.7 210.1 L628.2 210.3 L629.7 210.5 L631.2 210.7 L632.7 210.9 L634.2 211.1 L635.7 211.4 L637.1 211.6 L638.6 211.8 L640.1 212.1 L641.6 212.3 L643.1 212.6 L644.6 212.9 L646.1 213.1 L647.5 213.4 L649.0 213.7 L650.5 214.0 L652.0 214.3 L653.4 214.6 L654.9 214.9 L656.4 215.2 L657.8 215.5 L659.3 215.9 L660.7 216.2 L662.2 216.6 L663.7 216.9 L665.1 217.3 L666.6 217.7 L668.0 218.0 L669.4 218.4 L670.9 218.8 L672.3 219.2 L673.8 219.6 L675.2 220.1 L676.6 220.5 L678.1 220.9 L679.5 221.4 L680.9 221.8 L682.3 222.3 L683.7 222.7 L685.2 223.2 L686.6 223.7 L688.0 224.2 L689.4 224.7 L690.8 225.2 L692.2 225.7 L693.6 226.3 L695.0 226.8 L696.4 227.4 L697.7 227.9 L699.1 228.5 L700.5 229.0 L701.9 229.6 L703.2 230.2 L704.6 230.8 L706.0 231.4 L707.3 232.1 L708.7 232.7 L710.1 233.3 L711.4 234.0 L712.7 234.7 L714.1 235.3 L715.4 236.0 L716.7 236.7 L718.1 237.4 L719.4 238.1 L720.7 238.8 L722.0 239.6 L723.3 240.3 L724.6 241.1 L725.9 241.8 L727.2 242.6 L728.4 243.4 L729.7 244.2 L730.9 245.0 L732.2 245.8 L733.4 246.6 L734.6 247.5 L735.9 248.3 L737.1 249.2 L738.3 250.1 L739.4 251.0 L740.6 251.9 L741.8 252.8 L742.9 253.7 L744.1 254.6 L745.2 255.6 L746.3 256.5 L747.4 257.5 L748.5 258.5 L749.6 259.5 L750.7 260.5 L751.7 261.5 L752.7 262.5 L753.8 263.6 L754.8 264.6 L755.8 265.7 L756.8 266.8 L757.7 267.9 L758.7 269.0 L759.6 270.1 L760.5 271.2 L761.4 272.4 L762.3 273.5 L763.2 274.7 L764.0 275.9 L764.8 277.1 L765.7 278.3 L766.4 279.5 L767.2 280.7 L768.0 282.0 L768.7 283.2 L769.5 284.5 L770.2 285.8 L770.9 287.1 L771.6 288.4 L772.2 289.7 L772.9 291.0 L773.5 292.3 L774.1 293.7 L774.7 295.0 L775.3 296.4 L775.9 297.7 L776.5 299.1 L777.0 300.5 L777.6 301.9 L778.1 303.2 L778.6 304.6 L779.1 306.1 L779.5 307.5 L780.0 308.9 L780.5 310.3 L780.9 311.7 L781.3 313.2 L781.7 314.6 L782.1 316.0 L782.5 317.5 L782.9 318.9 L783.3 320.4 L783.6 321.9 L784.0 323.3 L784.3 324.8 L784.6 326.2 L784.9 327.7 L785.2 329.2 L785.5 330.7 L785.8 332.1 L786.0 333.6 L786.3 335.1 L786.5 336.6 L786.8 338.1 L787.0 339.6 L787.2 341.1 L787.4 342.6 L787.6 344.1 L787.8 345.6 L788.0 347.1 L788.1 348.6 L788.3 350.1 L788.4 351.6 L788.6 353.1 L788.7 354.6 L788.9 356.1 L789.0 357.7 L789.1 359.2 L789.2 360.7 L789.3 362.2 L789.4 363.7 L789.5 365.3 L789.6 366.8 L789.7 368.3 L789.8 369.8 L789.8 371.4 L789.9 372.9 L789.9 374.4 L790.0 376.0 L790.1 377.5 L790.1 379.0 L790.1 380.6 L790.2 382.1 L790.2 383.6 L790.2 385.2 L790.3 386.7 L790.3 388.2 L790.3 389.8 L790.3 391.3 L790.3 392.8 L790.4 394.4 L790.4 395.9 L790.4 397.4 L790.4 399.0 L790.4 400.5 L790.4 402.1 L790.4 403.6 L790.4 405.1 L790.4 406.7 L790.4 408.2 L790.4 409.7 L790.4 411.2 L790.4 412.8 L790.4 414.3 L790.4 415.8 L790.4 417.4 L790.4 418.9 L790.4 420.4 L790.4 421.9 L790.4 423.5 L790.4 425.0 L790.4 426.5 L790.5 428.0 L790.5 429.5 L790.5 431.0 L790.5 432.5 L790.5 434.1 L790.5 435.6 L790.6 437.1 L790.6 438.6 L790.6 440.1 L790.7 441.6 L790.7 443.1 L790.7 444.6 L790.8 446.1 L790.8 447.6 L790.8 449.1 L790.9 450.6 L790.9 452.1 L791.0 453.6 L791.0 455.0 L791.1 456.5 L791.1 458.0 L791.2 459.5 L791.2 461.0 L791.3 462.5 L791.3 464.0 L791.4 465.4 L791.4 466.9 L791.5 468.4 L791.5 469.9 L791.6 471.4 L791.6 472.9 L791.7 474.3 L791.8 475.8 L791.8 477.3 L791.9 478.8 L791.9 480.2 L792.0 481.7 L792.0 483.2 L792.1 484.7 L792.1 486.2 L792.2 487.6 L792.3 489.1 L792.3 490.6 L792.4 492.1 L792.4 493.5 L792.5 495.0 L792.5 496.5 L792.6 498.0 L792.6 499.4 L792.6 500.9 L792.7 502.4 L792.7 503.9 L792.8 505.4 L792.8 506.8 L792.9 508.3 L792.9 509.8 L792.9 511.3 L793.0 512.8 L793.0 514.2 L793.0 515.7 L793.0 517.2 L793.1 518.7 L793.1 520.2 L793.1 521.7 L793.1 523.2 L793.1 524.6 L793.1 526.1 L793.1 527.6 L793.2 529.1 L793.2 530.6 L793.2 532.1 L793.2 533.6 L793.2 535.1 L793.2 536.6 L793.1 538.1 L793.1 539.6 L793.1 541.0 L793.1 542.5 L793.1 544.0 L793.1 545.5 L793.1 547.0 L793.0 548.5 L793.0 550.0 L793.0 551.5 L793.0 553.0 L792.9 554.5 L792.9 556.0 L792.9 557.5 L792.8 559.0 L792.8 560.5 L792.7 562.0 L792.7 563.5 L792.7 565.0 L792.6 566.5 L792.6 568.0 L792.5 569.6 L792.5 571.1 L792.4 572.6 L792.4 574.1 L792.3 575.6 L792.2 577.1 L792.2 578.6 L792.1 580.1 L792.1 581.6 L792.0 583.1 L791.9 584.6 L791.8 586.1 L791.8 587.6 L791.7 589.1 L791.6 590.6 L791.6 592.1 L791.5 593.6 L791.4 595.1 L791.3 596.6 L791.2 598.2 L791.1 599.7 L791.1 601.2 L791.0 602.7 L790.9 604.2 L790.8 605.7 L790.7 607.2 L790.6 608.7 L790.5 610.2 L790.4 611.7 L790.3 613.2 L790.2 614.7 L790.1 616.2 L790.0 617.7 L789.9 619.2 L789.8 620.7 L789.7 622.2 L789.6 623.7 L789.5 625.2 L789.4 626.7 L789.3 628.2 L789.2 629.7 L789.1 631.2 L788.9 632.7 L788.8 634.2 L788.7 635.7 L788.6 637.2 L788.5 638.7 L788.4 640.2 L788.2 641.7 L788.1 643.2 L788.0 644.7 L787.9 646.2 L787.7 647.7 L787.6 649.2 L787.5 650.7 L787.4 652.1 L787.2 653.6 L787.1 655.1 L787.0 656.6 L786.9 658.1 L786.7 659.6 L786.6 661.1 L786.5 662.6 L786.3 664.0 L786.2 665.5 L786.0 667.0 L785.9 668.5 L785.8 670.0" fill="none" stroke="#1a1a1a" stroke-width="4.2"/>
<path d="M254.0 395.0 L253.2 396.3 L252.4 397.5 L251.7 398.8 L251.0 400.1 L250.2 401.4 L249.5 402.7 L248.8 404.0 L248.1 405.3 L247.4 406.6 L246.7 407.9 L246.1 409.2 L245.4 410.6 L244.7 411.9 L244.1 413.2 L243.4 414.6 L242.8 415.9 L242.2 417.2 L241.6 418.6 L241.0 419.9 L240.4 421.3 L239.8 422.7 L239.2 424.0 L238.6 425.4 L238.0 426.8 L237.5 428.1 L236.9 429.5 L236.4 430.9 L235.9 432.3 L235.3 433.7 L234.8 435.1 L234.3 436.5 L233.8 437.9 L233.3 439.3 L232.8 440.7 L232.4 442.1 L231.9 443.5 L231.4 444.9 L231.0 446.3 L230.6 447.8 L230.1 449.2 L229.7 450.6 L229.3 452.0 L228.9 453.5 L228.5 454.9 L228.1 456.3 L227.7 457.8 L227.4 459.2 L227.0 460.7 L226.6 462.1 L226.3 463.5 L226.0 465.0 L225.6 466.4 L225.3 467.9 L225.0 469.3 L224.7 470.8 L224.4 472.3 L224.1 473.7 L223.9 475.2 L223.6 476.6 L223.3 478.1 L223.1 479.6 L222.9 481.0 L222.6 482.5 L222.4 484.0 L222.2 485.4 L222.0 486.9 L221.8 488.4 L221.6 489.8 L221.4 491.3 L221.3 492.8 L221.1 494.3 L221.0 495.7 L220.8 497.2 L220.7 498.7 L220.6 500.2 L220.5 501.6 L220.4 503.1 L220.3 504.6 L220.2 506.1 L220.1 507.6 L220.0 509.0 L220.0 510.5 L219.9 512.0" fill="none" stroke="#1a1a1a" stroke-width="4.2"/>
<path d="M760.4 393.7 L761.3 394.9 L762.0 396.2 L762.8 397.4 L763.6 398.7 L764.3 399.9 L765.1 401.2 L765.8 402.5 L766.5 403.8 L767.2 405.1 L767.9 406.4 L768.6 407.7 L769.2 409.0 L769.9 410.4 L770.5 411.7 L771.1 413.1 L771.7 414.4 L772.3 415.8 L772.9 417.1 L773.4 418.5 L774.0 419.9 L774.5 421.2 L775.1 422.6 L775.6 424.0 L776.1 425.4 L776.6 426.8 L777.1 428.2 L777.5 429.6 L778.0 431.0 L778.5 432.4 L778.9 433.9 L779.4 435.3 L779.8 436.7 L780.2 438.1 L780.6 439.6 L781.0 441.0 L781.4 442.5 L781.8 443.9 L782.2 445.4 L782.6 446.8 L782.9 448.3 L783.3 449.7 L783.6 451.2 L784.0 452.6 L784.3 454.1 L784.7 455.5 L785.0 457.0 L785.3 458.5 L785.6 459.9 L785.9 461.4 L786.2 462.9 L786.5 464.3 L786.8 465.8 L787.1 467.3 L787.4 468.7 L787.7 470.2 L788.0 471.7 L788.3 473.1 L788.5 474.6 L788.8 476.1 L789.1 477.5 L789.3 479.0 L789.6 480.4 L789.8 481.9 L790.1 483.4 L790.3 484.8 L790.6 486.3 L790.8 487.7 L791.1 489.2 L791.3 490.6 L791.6 492.1 L791.8 493.5 L792.1 495.0" fill="none" stroke="#1a1a1a" stroke-width="4.2"/>
<path d="M254 393 V600 C254 650 258.2 679.4 267 689 L338.8 767.8 H674 L746 691 C755 681.5 760 650 760 600 V393" fill="none" stroke="#1a1a1a" stroke-width="4.2" stroke-linejoin="round"/>
<path d="M254 392 H326 Q339.5 392 339.5 405.5 V577 Q339.5 591 326 591 H254" fill="none" stroke="#1a1a1a" stroke-width="4.2"/>
<path d="M254 395 H321 Q332.5 395 332.5 406.5 V560 Q332.5 572 321 572 H254" fill="none" stroke="#1a1a1a" stroke-width="4.2"/>
<path d="M760 392 H686 Q673 392 673 405 V577 Q673 590.5 686 590.5 H760" fill="none" stroke="#1a1a1a" stroke-width="4.2"/>
<path d="M760 395 H694 Q682.5 395 682.5 406.5 V560 Q682.5 572 694 572 H760" fill="none" stroke="#1a1a1a" stroke-width="4.2"/>
<rect x="445" y="277.3" width="122" height="67.2" rx="5" fill="none" stroke="#1a1a1a" stroke-width="4"/>
<rect x="452.4" y="283.5" width="29" height="51" rx="14.5" fill="#a8a8a8" stroke="#1a1a1a" stroke-width="4"/>
<path d="M452.9 312 Q466.9 334 480.9 312" fill="none" stroke="#1a1a1a" stroke-width="3"/>
<path d="M453.4 321 Q466.9 340 480.4 321" fill="none" stroke="#1a1a1a" stroke-width="3"/>
<rect x="459.9" y="292.6" width="14" height="23.8" rx="7" fill="#fff" stroke="#1a1a1a" stroke-width="3.2"/>
<rect x="532.3" y="283.5" width="29" height="51" rx="14.5" fill="#a8a8a8" stroke="#1a1a1a" stroke-width="4"/>
<path d="M532.8 312 Q546.8 334 560.8 312" fill="none" stroke="#1a1a1a" stroke-width="3"/>
<path d="M533.3 321 Q546.8 340 560.3 321" fill="none" stroke="#1a1a1a" stroke-width="3"/>
<rect x="539.8" y="292.6" width="14" height="23.8" rx="7" fill="#fff" stroke="#1a1a1a" stroke-width="3.2"/>
<circle cx="506.2" cy="448.3" r="87.6" fill="none" stroke="#1a1a1a" stroke-width="4"/>
<circle cx="507.2" cy="448.5" r="48" fill="none" stroke="#1a1a1a" stroke-width="4"/>
<path d="M487.7 411.9 A41.5 41.5 0 0 1 526.7 411.9" fill="none" stroke="#1a1a1a" stroke-width="2.5"/>
<line x1="487.7" y1="411.9" x2="485.1" y2="407.0" stroke="#1a1a1a" stroke-width="2.5"/>
<line x1="526.7" y1="411.9" x2="529.3" y2="407.0" stroke="#1a1a1a" stroke-width="2.5"/>
<path d="M548.7 449.9 A41.5 41.5 0 0 1 529.2 483.7" fill="none" stroke="#1a1a1a" stroke-width="2.5"/>
<line x1="548.7" y1="449.9" x2="554.2" y2="450.1" stroke="#1a1a1a" stroke-width="2.5"/>
<line x1="529.2" y1="483.7" x2="532.1" y2="488.4" stroke="#1a1a1a" stroke-width="2.5"/>
<path d="M485.2 483.7 A41.5 41.5 0 0 1 465.7 449.9" fill="none" stroke="#1a1a1a" stroke-width="2.5"/>
<line x1="485.2" y1="483.7" x2="482.3" y2="488.4" stroke="#1a1a1a" stroke-width="2.5"/>
<line x1="465.7" y1="449.9" x2="460.2" y2="450.1" stroke="#1a1a1a" stroke-width="2.5"/>
<circle cx="505" cy="607.3" r="19.5" fill="none" stroke="#1a1a1a" stroke-width="4"/>
<circle cx="505" cy="607.3" r="11" fill="none" stroke="#1a1a1a" stroke-width="3.5"/>
<path d="M457 767.8 Q469 766 469.2 748 V688 A37.15 37.15 0 0 1 543.5 688 V748 Q544 766 556 767.8" fill="none" stroke="#1a1a1a" stroke-width="4"/>
<path d="M483 733 V686 A24.2 24.2 0 0 1 531.4 686 V733 Q531.4 742 522 742 H492 Q483 742 483 733Z" fill="none" stroke="#1a1a1a" stroke-width="4"/>
<circle cx="506.5" cy="694.3" r="21" fill="none" stroke="#1a1a1a" stroke-width="4"/>
<circle cx="506.5" cy="694.3" r="11" fill="none" stroke="#1a1a1a" stroke-width="3.5"/>
<circle cx="345.1" cy="319.6" r="4.5" fill="none" stroke="#1a1a1a" stroke-width="4.2"/>
<circle cx="359.1" cy="335.0" r="4.5" fill="none" stroke="#1a1a1a" stroke-width="4.2"/>
<circle cx="345.1" cy="349.7" r="4.5" fill="none" stroke="#1a1a1a" stroke-width="4.2"/>
<circle cx="377.3" cy="356.7" r="4.5" fill="none" stroke="#1a1a1a" stroke-width="4.2"/>
<circle cx="392.7" cy="374.9" r="4.5" fill="none" stroke="#1a1a1a" stroke-width="4.2"/>
<circle cx="397.6" cy="397.3" r="4.5" fill="none" stroke="#1a1a1a" stroke-width="4.2"/>
<circle cx="390.6" cy="322.4" r="4.5" fill="none" stroke="#1a1a1a" stroke-width="4.2"/>
<circle cx="396.9" cy="481.7" r="4.5" fill="none" stroke="#1a1a1a" stroke-width="4.2"/>
<circle cx="392.7" cy="598.2" r="4.5" fill="none" stroke="#1a1a1a" stroke-width="4.2"/>
<circle cx="345.1" cy="648.6" r="4.5" fill="none" stroke="#1a1a1a" stroke-width="4.2"/>
<circle cx="359.1" cy="663.3" r="4.5" fill="none" stroke="#1a1a1a" stroke-width="4.2"/>
<circle cx="345.1" cy="677.3" r="4.5" fill="none" stroke="#1a1a1a" stroke-width="4.2"/>
<circle cx="378.0" cy="671.7" r="4.5" fill="none" stroke="#1a1a1a" stroke-width="4.2"/>
<circle cx="391.3" cy="652.8" r="4.5" fill="none" stroke="#1a1a1a" stroke-width="4.2"/>
<circle cx="620.3" cy="323.1" r="4.5" fill="none" stroke="#1a1a1a" stroke-width="4.2"/>
<circle cx="666.5" cy="319.3" r="4.5" fill="none" stroke="#1a1a1a" stroke-width="4.2"/>
<circle cx="651.6" cy="335.2" r="4.5" fill="none" stroke="#1a1a1a" stroke-width="4.2"/>
<circle cx="666.5" cy="347.3" r="4.5" fill="none" stroke="#1a1a1a" stroke-width="4.2"/>
<circle cx="634.6" cy="356.7" r="4.5" fill="none" stroke="#1a1a1a" stroke-width="4.2"/>
<circle cx="617.0" cy="374.8" r="4.5" fill="none" stroke="#1a1a1a" stroke-width="4.2"/>
<circle cx="613.7" cy="396.8" r="4.5" fill="none" stroke="#1a1a1a" stroke-width="4.2"/>
<circle cx="615.3" cy="481.7" r="4.5" fill="none" stroke="#1a1a1a" stroke-width="4.2"/>
<circle cx="617.6" cy="598.0" r="4.5" fill="none" stroke="#1a1a1a" stroke-width="4.2"/>
<circle cx="619.4" cy="652.0" r="4.5" fill="none" stroke="#1a1a1a" stroke-width="4.2"/>
<circle cx="666.8" cy="648.4" r="4.5" fill="none" stroke="#1a1a1a" stroke-width="4.2"/>
<circle cx="651.8" cy="662.8" r="4.5" fill="none" stroke="#1a1a1a" stroke-width="4.2"/>
<circle cx="634.4" cy="672.4" r="4.5" fill="none" stroke="#1a1a1a" stroke-width="4.2"/>
<circle cx="666.8" cy="677.2" r="4.5" fill="none" stroke="#1a1a1a" stroke-width="4.2"/>
<g font-family="Liberation Sans, sans-serif" style="font-kerning:none" fill="#2a2722" stroke="#2a2722" stroke-width="1.30">
<g transform="translate(53.51 105.41) scale(1.0560 1)"><text font-size="27.09">5/16-18</text><rect x="22.42" y="-4.54" width="6.02" height="7.59" fill="#fff" stroke="none"/><rect x="32.73" y="-4.54" width="5.75" height="7.59" fill="#fff" stroke="none"/><rect x="61.57" y="-4.54" width="6.02" height="7.59" fill="#fff" stroke="none"/><rect x="71.88" y="-4.54" width="5.75" height="7.59" fill="#fff" stroke="none"/></g>
<g transform="translate(159.42 105.41) scale(0.9370 1)"><text font-size="27.09">RH Thrd.</text></g>
<g transform="translate(105.31 137.22) scale(0.9757 1)"><text font-size="26.24">(28)</text></g>
<g transform="translate(160.52 137.22) scale(1.0156 1)"><text font-size="26.24">Plcs.</text></g>
<g transform="translate(468.05 138.09) scale(1.0633 1)"><text font-size="31.91">7.88&quot;</text></g>
<g transform="translate(478.72 575.19) scale(1.1140 1)"><text font-size="31.06">7.5&quot;</text></g>
<g transform="translate(486.27 811.48) scale(1.0992 1)"><text font-size="33.76">8&quot;</text></g>
<g transform="translate(485.68 844.68) scale(1.0520 1)"><text font-size="33.62">9&quot;</text></g>
<g transform="translate(452.62 881.38) scale(1.0328 1)"><text font-size="33.19">10.25&quot;</text><rect x="0.19" y="-5.01" width="7.19" height="8.06" fill="#fff" stroke="none"/><rect x="12.20" y="-5.01" width="6.86" height="8.06" fill="#fff" stroke="none"/></g>
<g transform="translate(452.73 915.88) scale(1.0006 1)"><text font-size="33.19">11.25&quot;</text><rect x="0.19" y="-5.01" width="7.19" height="8.06" fill="#fff" stroke="none"/><rect x="12.20" y="-5.01" width="6.86" height="8.06" fill="#fff" stroke="none"/><rect x="18.65" y="-5.01" width="7.19" height="8.06" fill="#fff" stroke="none"/><rect x="30.66" y="-5.01" width="6.86" height="8.06" fill="#fff" stroke="none"/></g>
<g transform="translate(98.09 541.98) rotate(-90) scale(1.0861 1)"><text font-size="32.48">12.5&quot;</text><rect x="0.15" y="-4.95" width="7.05" height="8.00" fill="#fff" stroke="none"/><rect x="11.96" y="-4.95" width="6.73" height="8.00" fill="#fff" stroke="none"/></g>
<g transform="translate(137.69 544.57) rotate(-90) scale(1.0894 1)"><text font-size="32.34">11.5&quot;</text><rect x="0.14" y="-4.94" width="7.03" height="7.99" fill="#fff" stroke="none"/><rect x="11.91" y="-4.94" width="6.70" height="7.99" fill="#fff" stroke="none"/><rect x="18.12" y="-4.94" width="7.03" height="7.99" fill="#fff" stroke="none"/><rect x="29.89" y="-4.94" width="6.70" height="7.99" fill="#fff" stroke="none"/></g>
<g transform="translate(177.99 541.89) rotate(-90) scale(1.0909 1)"><text font-size="31.49">10.5&quot;</text><rect x="0.09" y="-4.87" width="6.86" height="7.92" fill="#fff" stroke="none"/><rect x="11.62" y="-4.87" width="6.55" height="7.92" fill="#fff" stroke="none"/></g>
<g transform="translate(846.58 453.65) rotate(-90) scale(1.0393 1)"><text font-size="33.62">3&quot;</text></g>
<g transform="translate(878.78 503.95) rotate(-90) scale(1.1182 1)"><text font-size="33.62">8&quot;</text></g>
<g transform="translate(918.39 545.49) rotate(-90) scale(1.0988 1)"><text font-size="32.20">11&quot;</text><rect x="0.13" y="-4.93" width="7.00" height="7.98" fill="#fff" stroke="none"/><rect x="11.87" y="-4.93" width="6.68" height="7.98" fill="#fff" stroke="none"/><rect x="18.03" y="-4.93" width="7.00" height="7.98" fill="#fff" stroke="none"/><rect x="29.77" y="-4.93" width="6.68" height="7.98" fill="#fff" stroke="none"/></g>
<g transform="translate(955.58 526.16) rotate(-90) scale(0.9818 1)"><text font-size="34.75">11.5&quot;</text><rect x="0.29" y="-5.13" width="7.49" height="8.18" fill="#fff" stroke="none"/><rect x="12.73" y="-5.13" width="7.14" height="8.18" fill="#fff" stroke="none"/><rect x="19.61" y="-5.13" width="7.49" height="8.18" fill="#fff" stroke="none"/><rect x="32.05" y="-5.13" width="7.14" height="8.18" fill="#fff" stroke="none"/></g>
</g>
</svg>
</body></html>
